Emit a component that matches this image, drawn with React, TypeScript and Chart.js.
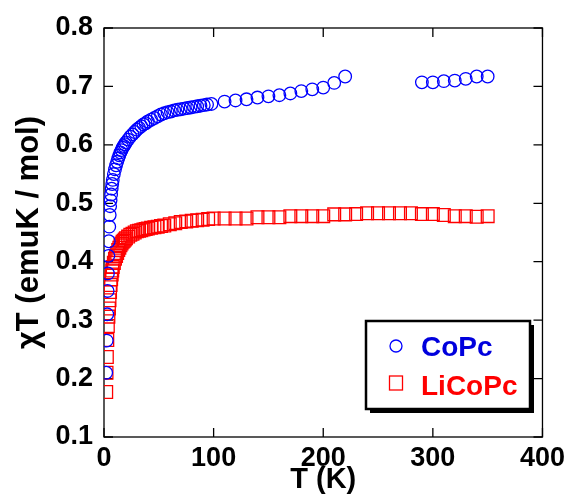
import React, { useEffect, useRef } from 'react';
import { Chart, registerables } from 'chart.js';

Chart.register(...registerables);

// CoPc: temperature (K) and chi*T (emu K / mol)
const coPcT = [
  2, 2.5, 3, 3.3, 3.6, 4, 4.4, 4.8, 5.2, 5.6, 6, 6.5, 7, 7.5, 8, 9, 10, 11, 12, 13, 14, 15, 16, 17, 18, 19, 20,
  22, 24, 26, 28, 30, 32, 34, 36, 38, 40, 43, 46, 49, 52, 55, 58, 61, 64, 67, 70, 73, 76, 79, 82, 85, 88, 91, 94, 98,
  110, 120, 130, 140, 150, 160, 170, 180, 190, 200, 210, 220,
  290, 300, 310, 320, 330, 340, 350,
];
const coPcChiT = [
  0.21, 0.265, 0.31, 0.35, 0.38, 0.41, 0.435, 0.46, 0.48, 0.495, 0.505, 0.515, 0.525, 0.533, 0.54, 0.55, 0.558,
  0.565, 0.571, 0.577, 0.582, 0.587, 0.591, 0.595, 0.598, 0.601, 0.604,
  0.609, 0.614, 0.618, 0.622, 0.626, 0.629, 0.632, 0.635, 0.637, 0.64, 0.643, 0.646, 0.649, 0.652, 0.654, 0.656,
  0.657, 0.659, 0.66, 0.661, 0.662, 0.663, 0.664, 0.665, 0.666, 0.667, 0.668, 0.669, 0.67,
  0.674, 0.676, 0.678, 0.681, 0.683, 0.685, 0.688, 0.692, 0.695, 0.698, 0.706, 0.717,
  0.707, 0.707, 0.709, 0.71, 0.713, 0.717, 0.717,
];

// LiCoPc
const liCoPcT = [
  2, 2.3, 2.6, 3, 3.5, 4, 4.5, 5, 5.5, 6, 6.5, 7, 7.5, 8, 9, 10, 11, 12, 13, 14, 15, 16, 17, 18, 19, 20,
  22, 24, 26, 28, 30, 32, 34, 36, 38, 40, 43, 46, 49, 52, 55, 60, 65, 70, 75, 80, 85, 90, 95, 100,
  110, 120, 130, 140, 150, 160, 170, 180, 190, 200, 210, 220, 230, 240, 250, 260, 270, 280, 290, 300,
  310, 320, 330, 340, 350,
];
const liCoPcChiT = [
  0.177, 0.21, 0.237, 0.266, 0.29, 0.306, 0.32, 0.334, 0.348, 0.36, 0.37, 0.378, 0.385, 0.391, 0.398, 0.405,
  0.41, 0.415, 0.42, 0.424, 0.428, 0.431, 0.434, 0.436, 0.438, 0.44,
  0.443, 0.446, 0.448, 0.45, 0.452, 0.453, 0.454, 0.455, 0.456, 0.457, 0.458, 0.459, 0.46, 0.461, 0.462, 0.464,
  0.466, 0.468, 0.469, 0.47, 0.471, 0.472, 0.473, 0.474,
  0.474, 0.474, 0.474, 0.476, 0.476, 0.476, 0.478, 0.478, 0.478, 0.478, 0.481, 0.481, 0.4815, 0.483, 0.483,
  0.483, 0.483, 0.483, 0.4815, 0.4815, 0.48, 0.478, 0.478, 0.477, 0.478,
];

const xTicks = [0, 100, 200, 300, 400];
const yTicks = [0.1, 0.2, 0.3, 0.4, 0.5, 0.6, 0.7, 0.8];
const seriesNames = ['CoPc', 'LiCoPc'];
const xTitle = 'T (K)';
const yTitle = 'χT (emuK / mol)';

const FONT = "'Liberation Sans', Arial, sans-serif";
const BLUE = '#0000ff';
const RED = '#ff0000';

const framePlugin = {
  id: 'frame',
  beforeDatasetsDraw(chart: any) {
    const { ctx, chartArea: a, scales } = chart;
    ctx.save();
    ctx.strokeStyle = '#000';
    ctx.lineWidth = 1.3;
    ctx.strokeRect(a.left, a.top, a.right - a.left, a.bottom - a.top);
    const tl = 9;
    ctx.beginPath();
    for (const v of xTicks) {
      const x = scales.x.getPixelForValue(v);
      ctx.moveTo(x, a.bottom);
      ctx.lineTo(x, a.bottom - tl);
      ctx.moveTo(x, a.top);
      ctx.lineTo(x, a.top + tl);
    }
    for (const v of yTicks) {
      const y = scales.y.getPixelForValue(v);
      ctx.moveTo(a.left, y);
      ctx.lineTo(a.left + tl, y);
      ctx.moveTo(a.right, y);
      ctx.lineTo(a.right - tl, y);
    }
    ctx.stroke();
    ctx.restore();
  },
};

const legendPlugin = {
  id: 'boxLegend',
  afterDraw(chart: any) {
    const { ctx } = chart;
    const bx = 366, by = 321, bw = 164, bh = 88;
    ctx.save();
    ctx.fillStyle = '#000';
    ctx.fillRect(bx + 4, by + 4, bw, bh);
    ctx.fillStyle = '#fff';
    ctx.fillRect(bx, by, bw, bh);
    ctx.strokeStyle = '#000';
    ctx.lineWidth = 2.5;
    ctx.strokeRect(bx, by, bw, bh);

    ctx.lineWidth = 1.3;
    ctx.strokeStyle = BLUE;
    ctx.beginPath();
    ctx.arc(396, 346, 6, 0, Math.PI * 2);
    ctx.stroke();
    ctx.strokeStyle = RED;
    ctx.strokeRect(389.5, 376, 13, 14);

    ctx.font = `bold 28px ${FONT}`;
    ctx.textBaseline = 'middle';
    ctx.textAlign = 'left';
    ctx.fillStyle = '#0000dd';
    ctx.fillText(seriesNames[0], 421, 348);
    ctx.fillStyle = RED;
    ctx.fillText(seriesNames[1], 421, 387);
    ctx.restore();
  },
};

export default function App() {
  const ref = useRef<HTMLCanvasElement | null>(null);

  useEffect(() => {
    if (!ref.current) return;
    const chart = new Chart(ref.current, {
      type: 'scatter',
      data: {
        datasets: [
          {
            label: seriesNames[0],
            data: coPcT.map((t, i) => ({ x: t, y: coPcChiT[i] })),
            pointStyle: 'circle',
            pointRadius: 6.3,
            pointBorderWidth: 1.3,
            borderColor: BLUE,
            backgroundColor: 'rgba(0,0,0,0)',
            showLine: false,
          },
          {
            label: seriesNames[1],
            data: liCoPcT.map((t, i) => ({ x: t, y: liCoPcChiT[i] })),
            pointStyle: 'rect',
            pointRadius: 9,
            pointBorderWidth: 1.3,
            borderColor: RED,
            backgroundColor: 'rgba(0,0,0,0)',
            showLine: false,
          },
        ],
      },
      options: {
        animation: false,
        responsive: false,
        layout: { padding: { top: 28, right: 27, left: 0, bottom: 0 } },
        plugins: { legend: { display: false }, tooltip: { enabled: false } },
        scales: {
          x: {
            type: 'linear',
            min: 0,
            max: 400,
            afterBuildTicks: (s: any) => {
              s.ticks = xTicks.map((v) => ({ value: v }));
            },
            afterFit: (s: any) => {
              s.height = 60;
            },
            grid: { display: false, drawTicks: false },
            border: { display: false },
            ticks: {
              padding: 5,
              color: '#000',
              font: { family: FONT, size: 27, weight: 'bold' },
              callback: (v: any) => String(v),
            },
            title: {
              display: true,
              text: xTitle,
              color: '#000',
              font: { family: FONT, size: 29, weight: 'bold' },
              padding: { top: 0, bottom: 0 },
            },
          },
          y: {
            type: 'linear',
            min: 0.1,
            max: 0.8,
            afterBuildTicks: (s: any) => {
              s.ticks = yTicks.map((v) => ({ value: v }));
            },
            afterFit: (s: any) => {
              s.width = 104;
            },
            grid: { display: false, drawTicks: false },
            border: { display: false },
            ticks: {
              padding: 11,
              color: '#000',
              font: { family: FONT, size: 27, weight: 'bold' },
              callback: (v: any) => Number(v).toFixed(1),
            },
            title: {
              display: true,
              text: yTitle,
              color: '#000',
              font: { family: FONT, size: 31, weight: 'bold' },
              padding: { top: 11, bottom: 0 },
            },
          },
        },
      },
      plugins: [framePlugin, legendPlugin],
    } as any);
    return () => chart.destroy();
  }, []);

  return (
    <div style={{ position: 'fixed', left: 0, top: 0, width: 570, height: 497, background: '#fff' }}>
      <canvas ref={ref} width={570} height={497} />
    </div>
  );
}
